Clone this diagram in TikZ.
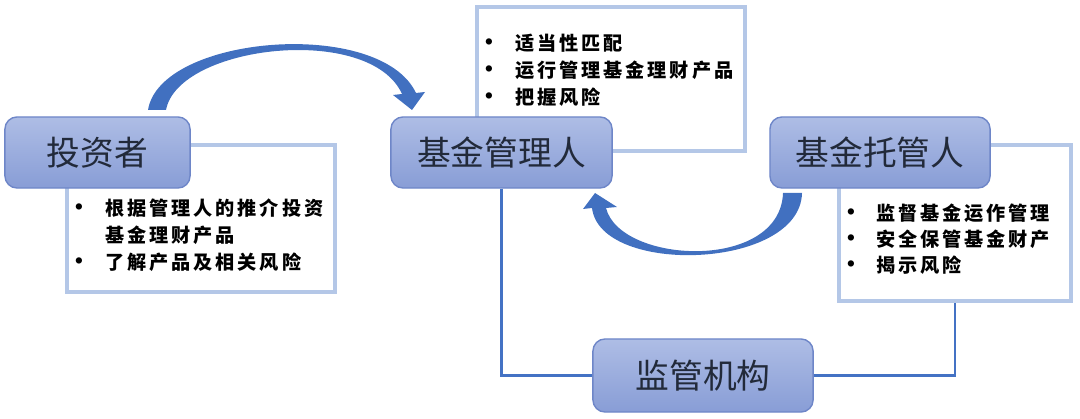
\documentclass[tikz,border=0pt]{standalone}
\usepackage{fontspec}
\newfontfamily\cjk{Noto Sans CJK SC}
\newfontfamily\cjkb[LetterSpace=15]{Noto Sans CJK SC}
\definecolor{boxtop}{HTML}{AEBDE5}
\definecolor{boxbot}{HTML}{889DD6}
\definecolor{boxline}{HTML}{6E86C8}
\definecolor{frameblue}{HTML}{B4C7E7}
\definecolor{linkblue}{HTML}{4472C4}
\definecolor{arrowblue}{HTML}{4170C0}
\definecolor{titletext}{HTML}{222A3A}
\tikzset{
  titlebox/.style={draw=boxline, line width=0.4pt, rounded corners=0.12cm,
    top color=boxtop, bottom color=boxbot, inner sep=0pt,
    minimum height=0.71cm, text=titletext, font=\cjk\fontsize{9.6pt}{11pt}\selectfont},
  framebox/.style={draw=frameblue, line width=1.15pt, fill=white, inner sep=0pt},
  itemtext/.style={anchor=west, inner sep=0pt, text=black, font=\cjkb\bfseries\fontsize{5.45pt}{6.5pt}\selectfont},
  bulletmark/.style={inner sep=0pt, text=black, font=\fontsize{6pt}{6pt}\selectfont},
  link/.style={draw=linkblue, line width=0.6pt},
  bigarrow/.style={fill=arrowblue, draw=none}
}
\begin{document}
\begin{tikzpicture}[x=0.01cm,y=-0.01cm]
\useasboundingbox (0,0) rectangle (1080,419);

% text frames
\node[framebox, minimum width=2.68cm, minimum height=1.47cm] (invf) at (201,218.5) {};
\node[framebox, minimum width=2.68cm, minimum height=1.44cm] (mgrf) at (611,79) {};
\node[framebox, minimum width=2.32cm, minimum height=1.56cm] (cusf) at (955,223) {};

% title boxes
\node[titlebox, minimum width=1.85cm] (inv) at (97.5,152.5) {投资者};
\node[titlebox, minimum width=2.21cm] (mgr) at (501.5,152.5) {基金管理人};
\node[titlebox, minimum width=2.20cm] (cus) at (880,152.5) {基金托管人};
\node[titlebox, minimum width=2.20cm, minimum height=0.73cm] (reg) at (703,375.5) {监管机构};

% connectors
\draw[link] (mgr.south) |- (reg.west);
\draw[link] (cusf.south) |- (reg.east);

% investor items
\node[bulletmark] (ib1) at (79,208) {\textbullet};
\node[itemtext] (it1) at (105,208) {根据管理人的推介投资};
\node[itemtext] (it2) at (105,235) {基金理财产品};
\node[bulletmark] (ib3) at (79,262) {\textbullet};
\node[itemtext] (it3) at (105,262) {了解产品及相关风险};

% manager items
\node[bulletmark] (mb1) at (489,43) {\textbullet};
\node[itemtext] (mt1) at (515,43) {适当性匹配};
\node[bulletmark] (mb2) at (489,70) {\textbullet};
\node[itemtext] (mt2) at (515,70) {运行管理基金理财产品};
\node[bulletmark] (mb3) at (489,97) {\textbullet};
\node[itemtext] (mt3) at (515,97) {把握风险};

% custodian items
\node[bulletmark] (cb1) at (851,213) {\textbullet};
\node[itemtext] (ct1) at (876,213) {监督基金运作管理};
\node[bulletmark] (cb2) at (851,239) {\textbullet};
\node[itemtext] (ct2) at (876,239) {安全保管基金财产};
\node[bulletmark] (cb3) at (851,265) {\textbullet};
\node[itemtext] (ct3) at (876,265) {揭示风险};

% curved arrows
\fill[bigarrow] (148,110) .. controls (160,35) and (380,17) .. (416,93)
  -- (425,92) -- (412,110) -- (393,95) -- (402,94)
  .. controls (370,23) and (178,45) .. (166,110) -- cycle;
\fill[bigarrow] (802,193) .. controls (800,270) and (600,276) .. (592,208)
  -- (583,209) -- (595,193) -- (617,207) -- (606,208)
  .. controls (620,264) and (780,272) .. (783,193) -- cycle;
\end{tikzpicture}
\end{document}
